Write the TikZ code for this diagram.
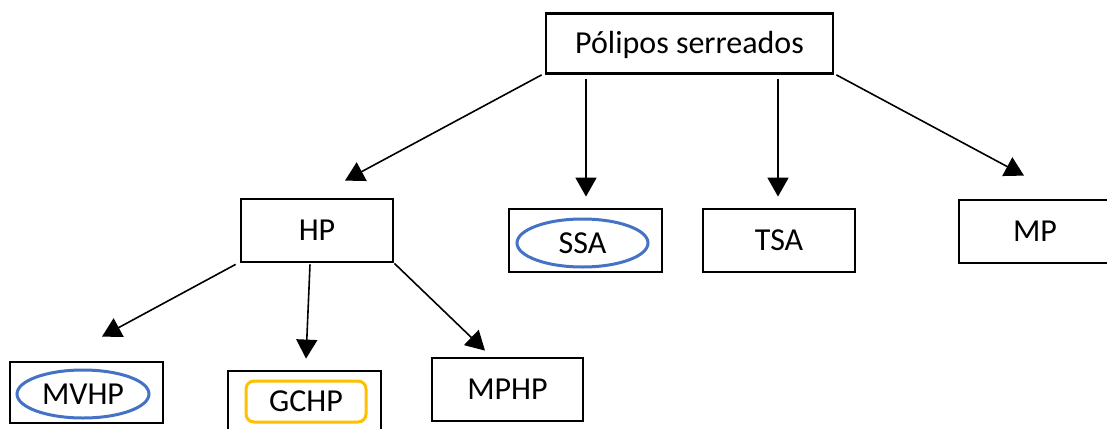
\documentclass[tikz,border=0pt]{standalone}
\usepackage{fontspec}
\setmainfont{Carlito}
\usetikzlibrary{arrows.meta,shapes.geometric}
\definecolor{obox}{RGB}{0,0,0}
\definecolor{oblue}{RGB}{68,114,196}
\definecolor{ogold}{RGB}{255,192,0}
\tikzset{
  box/.style={draw=obox,line width=2.8pt,inner sep=0pt,text height=20pt,text depth=0pt,
    font=\fontsize{32}{38}\selectfont},
  oval/.style={ellipse,draw=oblue,line width=3pt,inner sep=0pt,text height=20pt,text depth=0pt,
    font=\fontsize{32}{38}\selectfont},
  rbox/.style={rectangle,rounded corners=8pt,draw=ogold,line width=3pt,inner sep=0pt,text height=20pt,text depth=0pt,
    font=\fontsize{32}{38}\selectfont},
  arr/.style={line width=1.6pt,-{Triangle[length=19pt,width=21pt]}}
}
\begin{document}
\begin{tikzpicture}[x=1pt,y=-1pt]
\path[use as bounding box] (0,0) rectangle (1107,428);
\clip (0,0) rectangle (1107,428);
\fill[white] (0,0) rectangle (1107,428);
% top
\node[box,minimum width=287pt,minimum height=60pt] (top) at (689.5,43.5) {Pólipos serreados};
% second row
\node[box,minimum width=152pt,minimum height=63pt] (hp) at (317,230.5) {HP};
\node[box,minimum width=153pt,minimum height=63pt] (ssa) at (585.5,240.5) {};
\node[oval,minimum width=131pt,minimum height=48pt] (ssao) at (582.5,243) {SSA};
\node[box,minimum width=152pt,minimum height=63pt] (tsa) at (779,240.5) {TSA};
\node[box,minimum width=152pt,minimum height=63pt] (mp) at (1035,231.5) {MP};
% third row
\node[box,minimum width=153pt,minimum height=61pt] (mvhp) at (86.5,392.5) {};
\node[oval,minimum width=132pt,minimum height=48pt] (mvhpo) at (83,394) {MVHP};
\node[box,minimum width=153pt,minimum height=63pt] (gchp) at (304.5,402.5) {};
\node[rbox,minimum width=120pt,minimum height=41pt] (gchpo) at (306,401.5) {GCHP};
\node[box,minimum width=151pt,minimum height=63pt] (mphp) at (507.5,389.5) {MPHP};
% arrows
\draw[arr] ([xshift=-3pt]top.south west) -- ([xshift=28pt,yshift=17pt]hp.north);
\draw[arr] ([xshift=-103.5pt,yshift=-4pt]top.south) -- ([xshift=0.5pt,yshift=11pt]ssa.north);
\draw[arr] ([xshift=88.5pt,yshift=-4pt]top.south) -- ([xshift=-1pt,yshift=11pt]tsa.north);
\draw[arr] ([xshift=2pt]top.south east) -- ([xshift=-11pt,yshift=23pt]mp.north);
\draw[arr] ([xshift=-4pt,yshift=-1pt]hp.south west) -- ([xshift=15.5pt,yshift=24pt]mvhp.north);
\draw[arr] ([xshift=-7pt,yshift=-1pt]hp.south) -- ([xshift=1.5pt,yshift=11pt]gchp.north);
\draw[arr] (hp.south east) -- ([xshift=-22.5pt,yshift=6pt]mphp.north);
\end{tikzpicture}
\end{document}
